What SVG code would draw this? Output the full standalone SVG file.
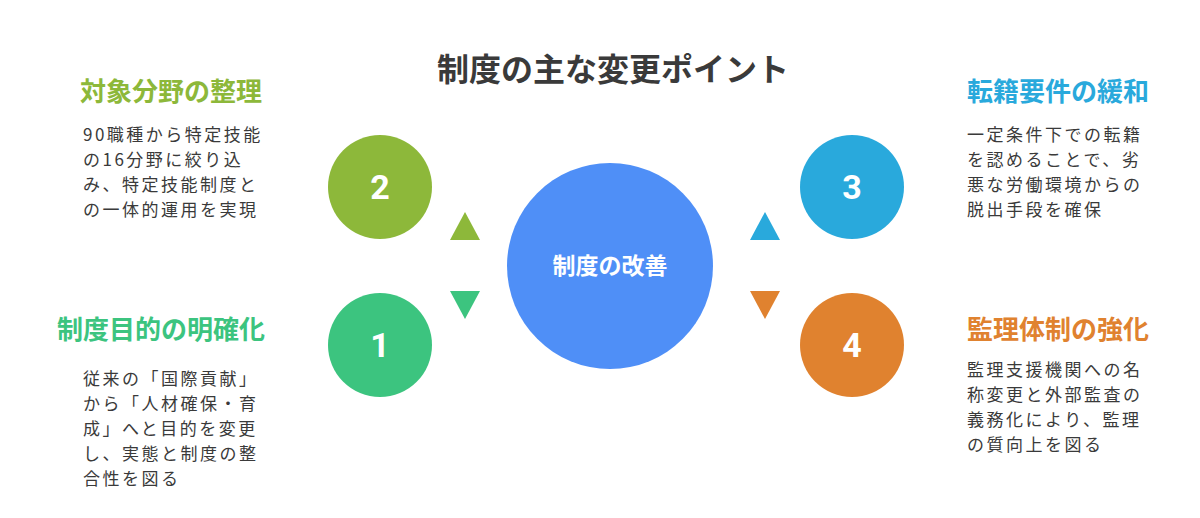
<svg xmlns="http://www.w3.org/2000/svg" width="1200" height="518" viewBox="0 0 1200 518">
<style>
text{font-family:"Noto Sans CJK JP","Noto Sans",sans-serif}
.t{font-size:32px;font-weight:bold;fill:#3a3a3a}
.h{font-size:26px;font-weight:bold}
.b{font-size:17px;letter-spacing:2.5px;fill:#3a3a3a}
.n{font-size:34px;font-weight:bold;fill:#fff;font-family:"Roboto",sans-serif}
</style>
<rect width="1200" height="518" fill="#fff"/>
<text class="t" x="613" y="81" text-anchor="middle">制度の主な変更ポイント</text>
<g id="connectors">
<polygon points="465,212 480,240 450,240" fill="#8db83a"/>
<polygon points="450,291 480,291 465,319" fill="#3cc47f"/>
<polygon points="765,212 780,240 750,240" fill="#29a9dc"/>
<polygon points="750,291 780,291 765,319" fill="#e0822f"/>
</g>
<g id="center"><circle cx="610" cy="266" r="103" fill="#4f8ff7"/><text x="610" y="274" text-anchor="middle" font-size="23" font-weight="bold" fill="#fff">制度の改善</text></g>
<g id="n2"><circle cx="380" cy="187" r="52" fill="#8db83a"/><text class="n" x="380" y="199" text-anchor="middle">2</text>
<text class="h" x="80" y="101" fill="#8db83a">対象分野の整理</text>
<text class="b" x="83" y="141">90職種から特定技能</text><text class="b" x="83" y="166">の16分野に絞り込</text><text class="b" x="83" y="191">み、特定技能制度と</text><text class="b" x="83" y="216">の一体的運用を実現</text></g>
<g id="n1"><circle cx="380" cy="345" r="52" fill="#3cc47f"/><text class="n" x="380" y="357" text-anchor="middle">1</text>
<text class="h" x="57" y="339" fill="#3cc47f">制度目的の明確化</text>
<text class="b" x="83" y="385">従来の「国際貢献」</text><text class="b" x="83" y="410">から「人材確保・育</text><text class="b" x="83" y="435">成」へと目的を変更</text><text class="b" x="83" y="460">し、実態と制度の整</text><text class="b" x="83" y="485">合性を図る</text></g>
<g id="n3"><circle cx="852" cy="187" r="52" fill="#29a9dc"/><text class="n" x="852" y="199" text-anchor="middle">3</text>
<text class="h" x="967" y="101" fill="#29a9dc">転籍要件の緩和</text>
<text class="b" x="967" y="141">一定条件下での転籍</text><text class="b" x="967" y="166">を認めることで、劣</text><text class="b" x="967" y="191">悪な労働環境からの</text><text class="b" x="967" y="216">脱出手段を確保</text></g>
<g id="n4"><circle cx="852" cy="345" r="52" fill="#e0822f"/><text class="n" x="852" y="357" text-anchor="middle">4</text>
<text class="h" x="967" y="339" fill="#e0822f">監理体制の強化</text>
<text class="b" x="967" y="376">監理支援機関への名</text><text class="b" x="967" y="401">称変更と外部監査の</text><text class="b" x="967" y="426">義務化により、監理</text><text class="b" x="967" y="451">の質向上を図る</text></g>
</svg>
